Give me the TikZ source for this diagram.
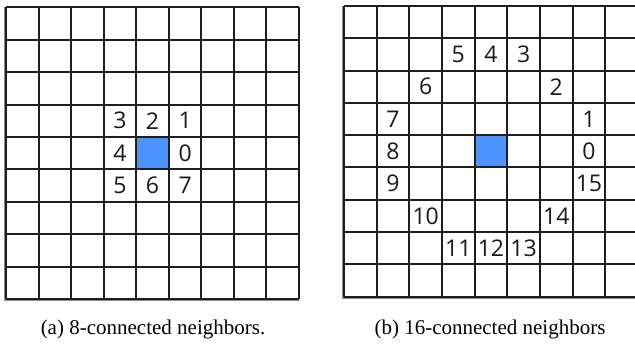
\documentclass[tikz,border=0pt]{standalone}
\usepackage{fontspec}
\setmainfont{Liberation Serif}
\newfontfamily\digitfont{Open Sans}
\definecolor{cellblue}{RGB}{77,148,255}
\definecolor{gridline}{RGB}{30,30,30}
\tikzset{
  gridstyle/.style={draw=gridline, line width=2pt},
  shadowstyle/.style={draw=black!45, line width=2pt},
  lbl/.style={inner sep=0pt, font=\digitfont\fontsize{23}{27}\selectfont, text=black!90},
  caption/.style={inner sep=0pt, font=\fontsize{21}{25}\selectfont}
}
\begin{document}
\begin{tikzpicture}[x=1pt,y=-1pt]
\useasboundingbox (0,0) rectangle (635,344);
\fill[white] (0,0) rectangle (635,344);
\begin{scope}
\clip (0,0) rectangle (635,344);
% ---------- left grid ----------
\def\lx{6}\def\ly{7.3}\def\lw{32.56}\def\lh{32.41}
\draw[shadowstyle] ({\lx-1.5},\ly) -- ({\lx-1.5},{\ly+9*\lh+1.5}) -- ({\lx+9*\lw},{\ly+9*\lh+1.5});
\fill[cellblue] ({\lx+4*\lw},{\ly+4*\lh}) rectangle ++(\lw,\lh);
\foreach \i in {0,...,9} {
  \draw[gridstyle] ({\lx+\i*\lw},\ly) -- ({\lx+\i*\lw},{\ly+9*\lh});
  \draw[gridstyle] (\lx,{\ly+\i*\lh}) -- ({\lx+9*\lw},{\ly+\i*\lh});
}
\foreach \n/\c/\r in {3/3/3,2/4/3,1/5/3,4/3/4,0/5/4,5/3/5,6/4/5,7/5/5}
  \node[lbl] (a\n) at ({\lx+(\c+0.5)*\lw},{\ly+(\r+0.5)*\lh}) {\n};
% ---------- right grid ----------
\def\rx{344}\def\ry{6}\def\rw{32.66}\def\rh{32.3}
\draw[shadowstyle] ({\rx-1.5},\ry) -- ({\rx-1.5},{\ry+9*\rh+1.5}) -- ({\rx+9*\rw},{\ry+9*\rh+1.5});
\fill[cellblue] ({\rx+4*\rw},{\ry+4*\rh}) rectangle ++(\rw,\rh);
\foreach \i in {0,...,9} {
  \draw[gridstyle] ({\rx+\i*\rw},\ry) -- ({\rx+\i*\rw},{\ry+9*\rh});
  \draw[gridstyle] (\rx,{\ry+\i*\rh}) -- ({\rx+9*\rw},{\ry+\i*\rh});
}
\foreach \n/\c/\r in {5/3/1,4/4/1,3/5/1,6/2/2,2/6/2,7/1/3,1/7/3,8/1/4,0/7/4,9/1/5,15/7/5,10/2/6,14/6/6,11/3/7,12/4/7,13/5/7}
  \node[lbl] (b\n) at ({\rx+(\c+0.5)*\rw},{\ry+(\r+0.5)*\rh}) {\n};
\end{scope}
% ---------- captions ----------
\node[caption, anchor=base] (capa) at (153,335) {(a) 8-connected neighbors.};
\node[caption, anchor=base] (capb) at (490,335) {(b) 16-connected neighbors};
\end{tikzpicture}
\end{document}
